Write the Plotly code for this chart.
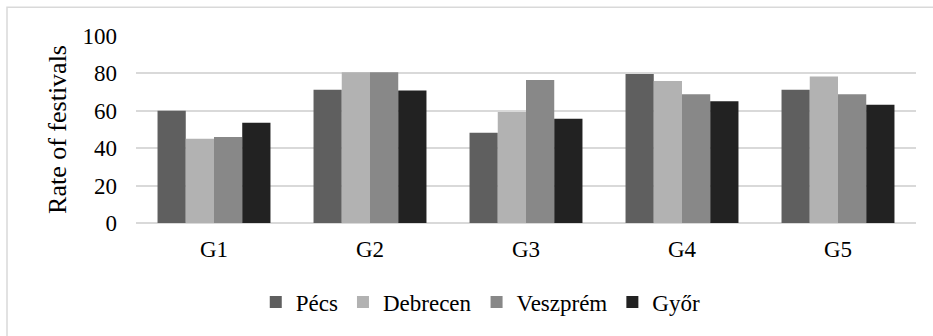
import plotly.graph_objects as go

categories = ["G1", "G2", "G3", "G4", "G5"]
series_names = ["Pécs", "Debrecen", "Veszprém", "Győr"]
pecs = [60, 71.3, 48.3, 79.7, 71.3]
debrecen = [45.1, 80.6, 59.3, 76.0, 78.3]
veszprem = [46, 80.6, 76.5, 68.9, 68.9]
gyor = [53.6, 70.9, 55.7, 65.1, 63.3]
colors = ["#5f5f5f", "#b2b2b2", "#888888", "#222222"]
y_ticks = [0, 20, 40, 60, 80, 100]

fig = go.Figure()
for name, vals, col in zip(series_names, [pecs, debrecen, veszprem, gyor], colors):
    fig.add_trace(go.Bar(x=categories, y=vals, name=name, marker=dict(color=col, line=dict(width=0))))

font_family = "Liberation Serif"
fig.update_layout(
    width=933, height=336,
    margin=dict(l=136, r=17, t=36, b=111),
    paper_bgcolor="white", plot_bgcolor="white",
    barmode="group", bargap=0.276, bargroupgap=0,
    font=dict(family=font_family, size=23, color="#000000"),
    showlegend=True,
    legend=dict(orientation="h", x=0.442, xanchor="center", y=-0.423, yanchor="middle",
                font=dict(family=font_family, size=23), itemwidth=30, traceorder="normal"),
    shapes=[dict(type="rect", xref="paper", yref="paper",
                 x0=(7 - 136) / 780, x1=2, y0=-1, y1=(225 - 7) / 189,
                 line=dict(color="#d9d9d9", width=1.5), fillcolor="rgba(0,0,0,0)", layer="below")],
)
fig.update_xaxes(showgrid=False, showline=False, ticks="",
                 tickfont=dict(family=font_family, size=23), ticklabelstandoff=10)
fig.update_yaxes(range=[0, 100], tickvals=y_ticks, showgrid=True, gridcolor="#d9d9d9", gridwidth=1.5,
                 zeroline=True, zerolinecolor="#d9d9d9", zerolinewidth=1.5, showline=False,
                 ticks="", tickfont=dict(family=font_family, size=23), ticklabelstandoff=18,
                 title=dict(text="Rate of festivals", font=dict(family=font_family, size=26), standoff=8))

fig.write_html("out.html")
